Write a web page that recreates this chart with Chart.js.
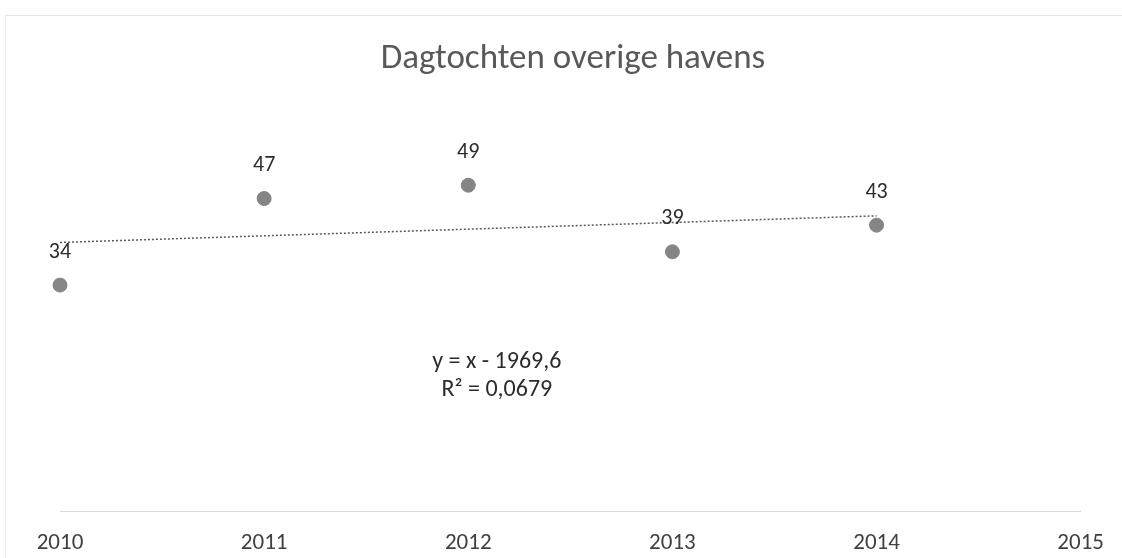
<!DOCTYPE html>
<html>
<head>
<meta charset="utf-8">
<script src="https://cdn.jsdelivr.net/npm/chart.js@4"></script>
<style>
  html, body { margin: 0; padding: 0; background: #fff; }
  #wrap { position: relative; width: 1122px; height: 558px; }
  #rand { position: absolute; left: 5px; top: 15px; right: 0; bottom: 0; border-left: 1px solid #ececec; border-top: 1px solid #e6e6e6; }
</style>
</head>
<body>
<div id="wrap">
  <div id="rand"></div>
  <canvas id="grafiek" width="1122" height="558"></canvas>
</div>
<script>
// gegevens
const jaren = [2010, 2011, 2012, 2013, 2014];
const dagtochten = [34, 47, 49, 39, 43];
// trendlijn: y = x - 1969,6
const trendJaren = [2010, 2014];
const trendWaarden = [40.4, 44.4];
const asJaren = [2010, 2011, 2012, 2013, 2014, 2015];
const vergelijking = ["y = x - 1969,6", "R\u00b2 = 0,0679"];

const lettertype = "Carlito, Lato, sans-serif";

// waarden boven de punten zetten
const labelsPlugin = {
    id: 'waardeLabels',
    afterDatasetsDraw(chart) {
        const ctx = chart.ctx;
        const meta = chart.getDatasetMeta(0);
        ctx.save();
        ctx.font = `22px ${lettertype}`;
        ctx.fillStyle = '#2b2b2b';
        ctx.textAlign = 'center';
        ctx.textBaseline = 'middle';
        meta.data.forEach((pt, i) => {
            ctx.fillText(String(dagtochten[i]), pt.x, pt.y - 33);
        });
        // vergelijking trendlijn
        ctx.font = `24px ${lettertype}`;
        const a = chart.chartArea;
        const cx = a.left + (a.right - a.left) * 0.428;
        ctx.fillText(vergelijking[0], cx, 362);
        ctx.fillText(vergelijking[1], cx, 390);
        ctx.restore();
    }
};

const ctx = document.getElementById('grafiek').getContext('2d');
new Chart(ctx, {
    type: 'scatter',
    data: {
        datasets: [
            {
                label: 'Dagtochten',
                data: jaren.map((j, i) => ({ x: j, y: dagtochten[i] })),
                backgroundColor: '#858585',
                borderColor: '#858585',
                pointRadius: 7,
                pointHoverRadius: 7,
                clip: false
            },
            {
                type: 'line',
                label: 'Trend',
                data: trendJaren.map((j, i) => ({ x: j, y: trendWaarden[i] })),
                borderColor: '#5a5a5a',
                borderWidth: 1.5,
                borderDash: [2, 2],
                pointRadius: 0,
                fill: false,
                clip: false
            }
        ]
    },
    options: {
        responsive: false,
        animation: false,
        layout: { padding: { left: 60, right: 36, top: 0, bottom: -17 } },
        plugins: {
            legend: { display: false },
            tooltip: { enabled: false },
            title: {
                display: true,
                text: 'Dagtochten overige havens',
                color: '#595959',
                font: { family: lettertype, size: 35, weight: 'normal' },
                padding: { top: 38, bottom: 32 }
            }
        },
        scales: {
            x: {
                type: 'linear',
                min: asJaren[0],
                max: asJaren[asJaren.length - 1],
                grid: { display: false, drawTicks: false },
                border: { display: true, color: '#d9d9d9', width: 1 },
                afterBuildTicks: (as) => { as.ticks = asJaren.map(v => ({ value: v })); },
                ticks: {
                    color: '#404040',
                    padding: 18,
                    font: { family: lettertype, size: 23 },
                    callback: v => String(v)
                }
            },
            y: {
                display: false,
                min: 0,
                max: 60
            }
        }
    },
    plugins: [labelsPlugin]
});
</script>
</body>
</html>
